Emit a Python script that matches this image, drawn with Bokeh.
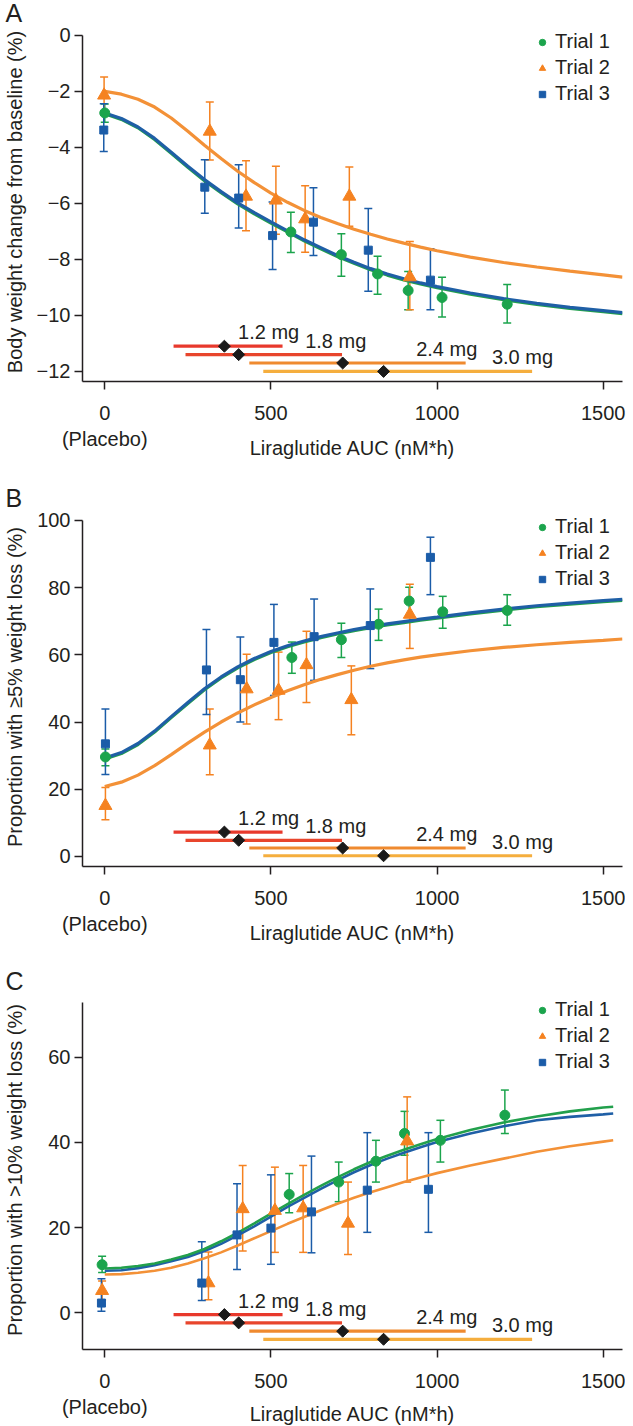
from bokeh.plotting import figure
from bokeh.models import (Whisker, TeeHead, ColumnDataSource, Legend, LegendItem,
                          Range1d, FixedTicker)
from bokeh.layouts import column
from bokeh.core.properties import value
from bokeh.embed import file_html
from bokeh.resources import INLINE

FONT = "Liberation Sans"
TXT = "#231f20"

# ---------------- data ----------------
TRIALS = ["Trial 1", "Trial 2", "Trial 3"]
DOSES = ["1.2 mg", "1.8 mg", "2.4 mg", "3.0 mg"]
DOSE_MEDIAN = [360, 403, 716, 839]
DOSE_LOW = [207, 243, 435, 477]
DOSE_HIGH = [535, 714, 1086, 1286]
X_TICKS = [0, 500, 1000, 1500]
X_TICK_LABELS = {0: "0\n(Placebo)", 500: "500", 1000: "1000", 1500: "1500"}

# Panel A: body weight change (%)
A_X = [[0, 560, 712, 821, 913, 1015, 1211],
       [-2, 316, 425, 515, 603, 736, 918],
       [-3, 301, 403, 505, 628, 793, 980]]
A_Y = [[-2.77, -7.02, -7.83, -8.52, -9.11, -9.36, -9.60],
       [-2.14, -3.43, -5.75, -5.89, -6.56, -5.75, -8.63],
       [-3.38, -5.42, -5.81, -7.15, -6.67, -7.67, -8.74]]
A_HI = [[-2.45, -6.32, -7.08, -7.89, -8.43, -8.64, -8.90],
        [-1.49, -2.38, -4.48, -4.67, -5.37, -4.70, -7.36],
        [-2.44, -4.44, -4.62, -5.95, -5.44, -6.18, -7.62]]
A_LO = [[-3.10, -7.75, -8.60, -9.24, -9.80, -10.06, -10.27],
        [-2.75, -4.45, -6.98, -7.10, -7.74, -6.82, -9.80],
        [-4.15, -6.35, -6.88, -8.36, -7.86, -9.14, -9.80]]
A_DOSE_Y = [-11.1, -11.4, -11.7, -12.0]

# Panel B: proportion with >=5% weight loss (%)
B_X = [[2, 563, 712, 824, 916, 1017, 1211],
       [2, 316, 427, 523, 607, 742, 918],
       [2, 306, 408, 509, 630, 799, 980]]
B_Y = [[29.6, 59.2, 64.5, 69.1, 76.0, 72.8, 73.2],
       [15.1, 33.1, 49.8, 49.4, 57.0, 46.6, 72.0],
       [33.5, 55.5, 52.6, 63.7, 65.4, 68.7, 89.0]]
B_HI = [[32.0, 63.8, 69.4, 73.6, 80.1, 77.4, 77.9],
        [20.5, 43.9, 60.2, 60.8, 67.0, 56.7, 81.0],
        [43.9, 67.5, 65.3, 75.0, 76.6, 79.6, 95.0]]
B_LO = [[27.0, 54.5, 59.2, 64.3, 71.5, 67.9, 68.8],
        [10.9, 24.3, 39.4, 40.7, 45.8, 36.2, 61.9],
        [24.4, 42.2, 40.0, 47.9, 52.4, 55.9, 77.9]]
B_DOSE_Y = [7.25, 4.8, 2.5, 0.2]

# Panel C: proportion with >10% weight loss (%)
C_X = [[-8, 555, 704, 816, 902, 1010, 1204],
       [-8, 312, 415, 512, 597, 732, 910],
       [-10, 292, 398, 500, 622, 790, 974]]
C_Y = [[11.3, 27.8, 30.7, 35.6, 42.1, 40.5, 46.4],
       [5.2, 7.0, 24.4, 24.0, 24.6, 21.0, 40.3],
       [2.3, 7.0, 18.3, 19.9, 23.7, 28.8, 29.0]]
C_HI = [[13.3, 32.7, 35.4, 40.5, 47.3, 45.2, 52.3],
        [7.5, 14.3, 34.6, 34.2, 34.6, 30.7, 50.7],
        [8.0, 16.7, 30.3, 32.4, 36.8, 42.3, 42.3]]
C_LO = [[9.5, 23.5, 26.1, 30.7, 37.0, 35.4, 42.1],
        [3.0, 3.1, 14.5, 14.2, 14.2, 13.7, 30.7],
        [0.4, 2.9, 10.2, 11.4, 14.1, 18.9, 18.9]]
C_DOSE_Y = [-0.4, -2.35, -4.3, -6.2]

# fitted exposure-response curves
CURVE_X_AB = [0, 50, 100, 150, 200, 250, 300, 350, 400, 450, 500, 550, 600, 650, 700,
              750, 800, 850, 900, 950, 1000, 1100, 1200, 1300, 1400, 1500, 1558]
CURVE_X_C = [0, 50, 100, 150, 200, 250, 300, 350, 400, 450, 500, 550, 600, 650, 700,
             750, 800, 850, 900, 950, 1000, 1100, 1200, 1300, 1400, 1500, 1530]
A_CURVES = [
    [-2.80, -3.00, -3.30, -3.72, -4.21, -4.71, -5.19, -5.62, -6.02, -6.37, -6.70, -7.02, -7.34, -7.62,
     -7.90, -8.14, -8.37, -8.56, -8.73, -8.88, -9.01, -9.24, -9.44, -9.61, -9.75, -9.87, -9.94],
    [-2.00, -2.10, -2.28, -2.56, -2.95, -3.42, -3.92, -4.40, -4.85, -5.26, -5.63, -5.96, -6.25, -6.50,
     -6.72, -6.92, -7.10, -7.27, -7.42, -7.56, -7.69, -7.92, -8.11, -8.27, -8.42, -8.55, -8.63],
    [-2.77, -2.97, -3.27, -3.68, -4.17, -4.67, -5.15, -5.58, -5.98, -6.33, -6.66, -6.98, -7.30, -7.58,
     -7.86, -8.10, -8.33, -8.52, -8.69, -8.84, -8.97, -9.20, -9.40, -9.57, -9.71, -9.83, -9.90],
]
B_CURVES = [
    [29.0, 30.6, 33.3, 37.0, 41.3, 45.5, 49.6, 53.1, 56.1, 58.6, 60.7, 62.4, 63.8, 65.1,
     66.2, 67.2, 68.1, 68.9, 69.6, 70.3, 70.9, 72.2, 73.3, 74.3, 75.1, 75.8, 76.2],
    [20.8, 22.1, 24.2, 27.0, 30.3, 33.7, 37.0, 40.0, 42.7, 45.1, 47.3, 49.3, 51.1, 52.7,
     54.1, 55.4, 56.6, 57.6, 58.5, 59.3, 60.0, 61.2, 62.2, 63.0, 63.7, 64.3, 64.7],
    [29.3, 30.9, 33.6, 37.3, 41.6, 45.8, 49.9, 53.4, 56.4, 58.9, 61.0, 62.7, 64.1, 65.4,
     66.5, 67.5, 68.4, 69.2, 69.9, 70.6, 71.2, 72.5, 73.6, 74.6, 75.4, 76.1, 76.5],
]
C_CURVES = [
    [10.4, 10.6, 11.0, 11.6, 12.5, 13.6, 15.0, 16.8, 18.8, 21.0, 23.3, 25.5, 27.7, 29.8,
     31.8, 33.7, 35.4, 36.9, 38.3, 39.6, 40.8, 42.9, 44.7, 46.1, 47.3, 48.2, 48.4],
    [9.0, 9.1, 9.4, 9.9, 10.6, 11.6, 12.8, 14.2, 15.8, 17.5, 19.2, 20.9, 22.5, 24.1,
     25.6, 27.0, 28.3, 29.5, 30.7, 31.8, 32.8, 34.6, 36.2, 37.8, 39.1, 40.2, 40.5],
    [9.9, 10.0, 10.5, 11.2, 12.1, 13.1, 14.5, 16.2, 18.2, 20.3, 22.6, 24.9, 27.0, 29.1,
     31.1, 33.0, 34.7, 36.2, 37.6, 38.9, 40.1, 42.1, 43.8, 45.2, 46.0, 46.6, 46.8],
]

# ---------------- styling (not data) ----------------
MARKER_COL = ["#1ba44c", "#f58220", "#1b5ca8"]
CURVE_COL = ["#22a04c", "#f39137", "#1f5fa6"]
MARKERS = ["circle", "triangle", "square"]
MARKER_SIZE = [10, 13, 8]
DOSE_COL = ["#e8392c", "#e8452c", "#ef8a2f", "#f5ae3e"]
DOSE_LABEL_X = [401, 603, 937, 1165]
FRAME_W, FRAME_H = 540, 359


def make_panel(letter, ytitle, yr, ybounds, yticks, xs, ys, his, los, dose_y, curve_x, curves,
               curve_w, curve_order, top, bottom, ytitle_standoff, xtitle_standoff):
    p = figure(frame_width=FRAME_W, frame_height=FRAME_H,
               x_range=Range1d(-67, 1558), y_range=Range1d(*yr),
               output_backend="svg", toolbar_location=None,
               min_border_left=78, min_border_right=4,
               min_border_top=top, min_border_bottom=bottom)
    p.outline_line_color = None
    p.xgrid.visible = False
    p.ygrid.visible = False
    p.background_fill_color = "white"
    p.border_fill_color = "white"

    p.title.text = letter
    p.title.align = "left"
    p.title.offset = -77
    p.title.standoff = -8
    p.title.text_font = FONT
    p.title.text_font_size = "25px"
    p.title.text_font_style = "normal"
    p.title.text_color = TXT

    for ax in (p.xaxis[0], p.yaxis[0]):
        ax.axis_line_color = TXT
        ax.axis_line_width = 1.5
        ax.major_tick_line_color = TXT
        ax.major_tick_line_width = 1.5
        ax.major_tick_out = 8
        ax.major_tick_in = 0
        ax.minor_tick_line_color = None
        ax.major_label_text_font = FONT
        ax.major_label_text_font_size = "20px"
        ax.major_label_text_color = TXT
        ax.axis_label_text_font = FONT
        ax.axis_label_text_font_size = "20px"
        ax.axis_label_text_font_style = "normal"
        ax.axis_label_text_color = TXT

    p.xaxis.ticker = FixedTicker(ticks=X_TICKS)
    p.xaxis.major_label_overrides = X_TICK_LABELS
    p.xaxis.major_label_standoff = 12
    p.xaxis.axis_label = "Liraglutide AUC (nM*h)"
    p.xaxis.axis_label_standoff = xtitle_standoff

    p.yaxis.ticker = FixedTicker(ticks=yticks)
    p.yaxis.bounds = ybounds
    p.yaxis.major_label_overrides = {t: (("\u2212" + str(abs(t))) if t < 0 else str(t)) for t in yticks}
    p.yaxis.major_label_standoff = 4
    p.yaxis.axis_label = ytitle
    p.yaxis.axis_label_standoff = ytitle_standoff

    # dose exposure ranges
    dsrc = ColumnDataSource(dict(lo=DOSE_LOW, hi=DOSE_HIGH, med=DOSE_MEDIAN, y=dose_y,
                                 col=DOSE_COL, lab=DOSES, lx=DOSE_LABEL_X))
    p.segment(x0="lo", x1="hi", y0="y", y1="y", line_color="col", line_width=3.2, source=dsrc)
    p.text(x="lx", y="y", text="lab", source=dsrc, text_font=value(FONT),
           text_font_size="20px", text_color=TXT, text_baseline="middle", y_offset=-14)
    p.scatter(x="med", y="y", marker="square", angle=0.785398, size=8.5,
              fill_color="#1a1a1a", line_color="#1a1a1a", source=dsrc)

    # fitted curves
    for i in curve_order:
        p.line(curve_x, curves[i], line_color=CURVE_COL[i], line_width=curve_w)

    # observed data with error bars
    items = []
    for i in range(3):
        src = ColumnDataSource(dict(x=xs[i], y=ys[i], hi=his[i], lo=los[i]))
        w = Whisker(base="x", upper="hi", lower="lo", dimension="height", source=src,
                    line_color=MARKER_COL[i], line_width=1.5,
                    upper_head=TeeHead(size=8, line_color=MARKER_COL[i], line_width=1.5),
                    lower_head=TeeHead(size=8, line_color=MARKER_COL[i], line_width=1.5))
        p.add_layout(w)
    for i in range(3):
        src = ColumnDataSource(dict(x=xs[i], y=ys[i]))
        r = p.scatter(x="x", y="y", marker=MARKERS[i], size=MARKER_SIZE[i],
                      fill_color=MARKER_COL[i], line_color=MARKER_COL[i], source=src)
        items.append(LegendItem(label=TRIALS[i], renderers=[r]))

    leg = Legend(items=items, location=(452, 276),
                 glyph_width=16, glyph_height=20, label_height=20, spacing=3,
                 padding=0, margin=0, border_line_color=None, background_fill_alpha=0,
                 label_text_font=FONT, label_text_font_size="20px",
                 label_text_color=TXT, label_standoff=5)
    p.add_layout(leg)
    return p


pA = make_panel("A", "Body weight change from baseline (%)", (-12.36, 0.46), (-12.36, 0),
                [0, -2, -4, -6, -8, -10, -12], A_X, A_Y, A_HI, A_LO, A_DOSE_Y,
                CURVE_X_AB, A_CURVES, 3.2, [0, 1, 2], 20, 75, 8, -16)
pB = make_panel("B", "Proportion with \u22655% weight loss (%)", (-3, 103.84), (-3, 100),
                [0, 20, 40, 60, 80, 100], B_X, B_Y, B_HI, B_LO, B_DOSE_Y,
                CURVE_X_AB, B_CURVES, 3.2, [1, 0, 2], 46, 75, 8, -16)
pC = make_panel("C", "Proportion with >10% weight loss (%)", (-8.6, 75.67), (-8.6, 72.8),
                [0, 20, 40, 60], C_X, C_Y, C_HI, C_LO, C_DOSE_Y,
                CURVE_X_C, C_CURVES, 2.6, [1, 2, 0], 44, 73, 19, -18)

layout = column(pA, pB, pC, spacing=0)
open("out.html", "w").write(file_html(layout, INLINE))
